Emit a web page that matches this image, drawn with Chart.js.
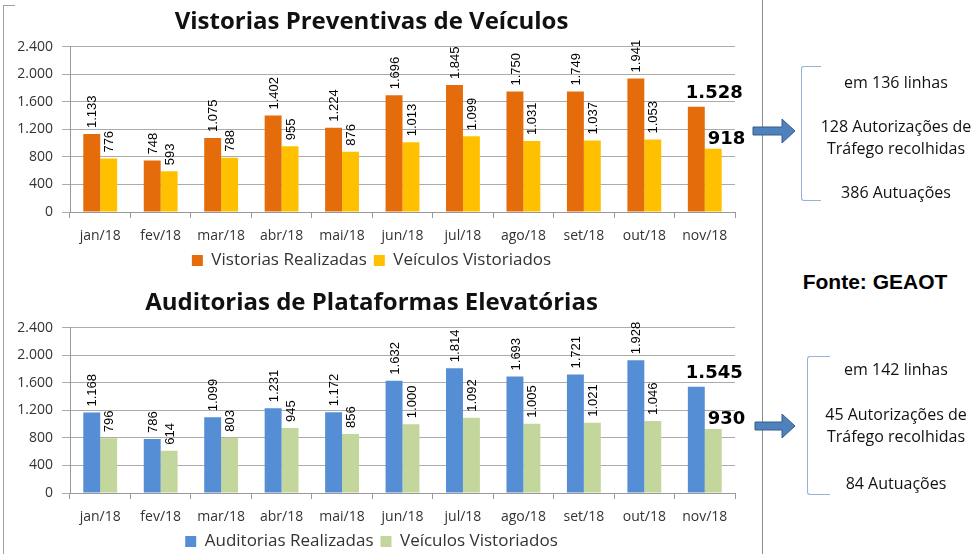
<!DOCTYPE html>
<html>
<head>
<meta charset="utf-8">
<script src="https://cdn.jsdelivr.net/npm/chart.js@4.4.1/dist/chart.umd.min.js"></script>
<style>
  body { margin: 0; width: 978px; height: 554px; overflow: hidden; background: #fff; position: relative; font-family: 'Open Sans', sans-serif; }
  .abs { position: absolute; }
  .note { position: absolute; left: 806px; width: 180px; text-align: center; font-size: 16px; line-height: 22px; color: #111; }
  .brace { position: absolute; border: 1.5px solid #95B3D7; border-right: none; border-radius: 3px 0 0 3px; }
</style>
</head>
<body>
<!-- chart frame bits -->
<div class="abs" style="left:3px;top:5px;width:1px;height:549px;background:#a0a0a0"></div>
<div class="abs" style="left:3px;top:5px;width:12px;height:1px;background:#a0a0a0"></div>
<div class="abs" style="left:762px;top:0;width:1px;height:554px;background:#8c8c8c"></div>

<canvas id="chart1" class="abs" style="left:0;top:0" width="760" height="279"></canvas>
<canvas id="chart2" class="abs" style="left:0;top:281px" width="760" height="279"></canvas>

<!-- arrows -->
<svg class="abs" style="left:745px;top:110px" width="60" height="45">
  <polygon points="8,17 37,17 37,9 50,21 37,33 37,25 8,25" fill="#4F81BD" stroke="#385D8A" stroke-width="1"/>
</svg>
<svg class="abs" style="left:745px;top:403px" width="60" height="45">
  <polygon points="10,19 37,19 37,11 50,23 37,35 37,27 10,27" fill="#4F81BD" stroke="#385D8A" stroke-width="1"/>
</svg>

<!-- brackets -->
<div class="brace" style="left:801px;top:66px;width:19px;height:133px"></div>
<div class="brace" style="left:807px;top:356px;width:22px;height:137px"></div>

<!-- notes -->
<div class="note" style="top:71px">em 136 linhas</div>
<div class="note" style="top:115px">128 Autorizações de<br>Tráfego recolhidas</div>
<div class="note" style="top:181px">386 Autuações</div>

<div class="note" style="top:358px">em 142 linhas</div>
<div class="note" style="top:403px">45 Autorizações de<br>Tráfego recolhidas</div>
<div class="note" style="top:472px">84 Autuações</div>

<div class="abs" style="left:790px;top:270px;width:170px;text-align:center;font:bold 21px 'Liberation Sans', Arial, sans-serif;color:#000">Fonte: GEAOT</div>

<script>
const months = ['jan/18', 'fev/18', 'mar/18', 'abr/18', 'mai/18', 'jun/18', 'jul/18', 'ago/18', 'set/18', 'out/18', 'nov/18'];

// Vistorias preventivas
const vistoriasRealizadas = [1133, 748, 1075, 1402, 1224, 1696, 1845, 1750, 1749, 1941, 1528];
const veiculosVistoriadosVist = [776, 593, 788, 955, 876, 1013, 1099, 1031, 1037, 1053, 918];

// Auditorias de plataformas
const auditoriasRealizadas = [1168, 786, 1099, 1231, 1172, 1632, 1814, 1693, 1721, 1928, 1545];
const veiculosVistoriadosAud = [796, 614, 803, 945, 856, 1000, 1092, 1005, 1021, 1046, 930];

const yMax = 2400;
const yStep = 400;

// 1133 -> "1.133"
function fmt(v) {
  return String(v).replace(/\B(?=(\d{3})+(?!\d))/g, '.');
}

// value labels: vertical for past months, big bold for the last one
const valueLabels = {
  id: 'valueLabels',
  afterDatasetsDraw(chart) {
    const ctx = chart.ctx;
    chart.data.datasets.forEach((ds, di) => {
      const meta = chart.getDatasetMeta(di);
      meta.data.forEach((bar, i) => {
        const txt = fmt(ds.data[i]);
        ctx.save();
        ctx.fillStyle = '#000';
        if (i === ds.data.length - 1) {
          ctx.font = 'bold 18px "DejaVu Sans"';
          ctx.textAlign = 'left';
          ctx.textBaseline = 'alphabetic';
          const left = bar.x - bar.width / 2 + (di === 0 ? -2 : 3);
          ctx.fillText(txt, left, bar.y - (di === 0 ? 9 : 5));
        } else {
          ctx.font = '13px "Liberation Sans"';
          ctx.translate(bar.x + 1, bar.y - 6);
          ctx.rotate(-Math.PI / 2);
          ctx.textAlign = 'left';
          ctx.textBaseline = 'middle';
          ctx.fillText(txt, 0, 0);
        }
        ctx.restore();
      });
    });
  }
};

function makeChart(id, title, name1, data1, color1, name2, data2, color2) {
  return new Chart(document.getElementById(id), {
    type: 'bar',
    data: {
      labels: months,
      datasets: [
        { label: name1, data: data1, backgroundColor: color1, categoryPercentage: 0.56, barPercentage: 1.0 },
        { label: name2, data: data2, backgroundColor: color2, categoryPercentage: 0.56, barPercentage: 1.0 }
      ]
    },
    options: {
      responsive: false,
      animation: false,
      layout: { padding: { left: 8, right: 25, top: 0, bottom: 0 } },
      scales: {
        x: {
          grid: { drawOnChartArea: false, drawTicks: true, tickLength: 6, color: '#999', offset: true },
          border: { color: '#999' },
          ticks: { font: { family: 'Open Sans', size: 14 }, color: '#333', padding: 10, maxRotation: 0 },
          afterFit(s) { s.height = 33; }
        },
        y: {
          min: 0,
          max: yMax,
          grid: { color: '#ABABAB', tickLength: 8 },
          border: { color: '#999' },
          ticks: { stepSize: yStep, callback: v => fmt(v), font: { family: 'Open Sans', size: 14 }, color: '#333', padding: 9 },
          afterFit(s) { s.width = 62; }
        }
      },
      plugins: {
        title: {
          display: true,
          text: title,
          color: '#111',
          font: { family: 'Open Sans', size: 24, weight: 'bold' },
          padding: { top: 8, bottom: 10 }
        },
        legend: {
          position: 'bottom',
          labels: { boxWidth: 11, boxHeight: 11, font: { family: 'Open Sans', size: 17 }, color: '#333', padding: 7 }
        },
        tooltip: { enabled: false }
      }
    },
    plugins: [valueLabels]
  });
}

makeChart('chart1', 'Vistorias Preventivas de Veículos',
  'Vistorias Realizadas', vistoriasRealizadas, '#E46C0A',
  'Veículos Vistoriados', veiculosVistoriadosVist, '#FFC000');

makeChart('chart2', 'Auditorias de Plataformas Elevatórias',
  'Auditorias Realizadas', auditoriasRealizadas, '#558ED5',
  'Veículos Vistoriados', veiculosVistoriadosAud, '#C3D69B');
</script>
</body>
</html>
